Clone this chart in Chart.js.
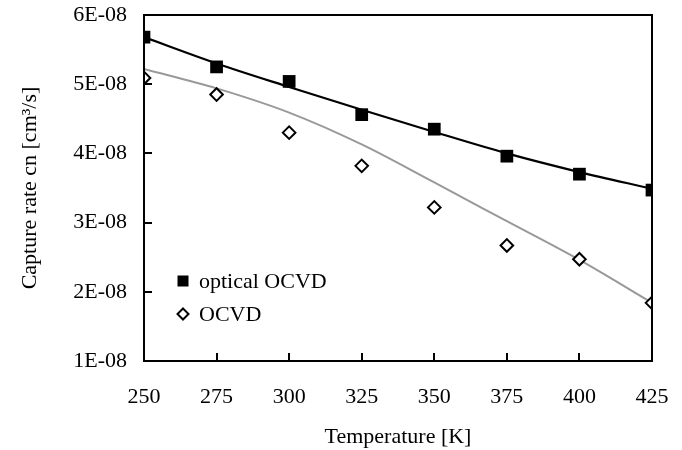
<!DOCTYPE html>
<html>
<head>
<meta charset="utf-8">
<script src="https://cdn.jsdelivr.net/npm/chart.js@4/dist/chart.umd.min.js"></script>
<style>
html,body{margin:0;padding:0;background:#fff;}
#wrap{width:682px;height:450px;}
</style>
</head>
<body>
<div id="wrap"><canvas id="c" width="682" height="450"></canvas></div>
<script>
// Temperature [K]
const temperatures = [250, 275, 300, 325, 350, 375, 400, 425];
// Capture rate, in units of 1E-08 cm^3/s
const opticalOCVD = [5.68, 5.25, 5.04, 4.56, 4.35, 3.96, 3.70, 3.47];
const ocvd        = [5.09, 4.85, 4.30, 3.82, 3.22, 2.67, 2.47, 1.84];
// Trend (fit) curves
const opticalFit  = [5.68, 5.30, 4.96, 4.63, 4.31, 4.00, 3.73, 3.49];
const ocvdFit     = [5.22, 4.94, 4.59, 4.13, 3.58, 3.02, 2.46, 1.84];
const yTickValues = [1, 2, 3, 4, 5, 6];
const xTickValues = [250, 275, 300, 325, 350, 375, 400, 425];
const seriesNames = ['optical OCVD', 'OCVD'];

const pts = arr => temperatures.map((t, i) => ({x: t, y: arr[i]}));
const FONT = "'Liberation Serif', 'Times New Roman', serif";

const frame = {
  id: 'frame',
  afterDatasetsDraw(chart) {
    const {ctx, chartArea: a, scales} = chart;
    ctx.save();
    ctx.strokeStyle = '#000';
    ctx.lineWidth = 2;
    ctx.strokeRect(a.left, a.top, a.right - a.left, a.bottom - a.top);
    ctx.beginPath();
    xTickValues.forEach(v => {
      const x = Math.round(scales.x.getPixelForValue(v));
      ctx.moveTo(x, a.bottom); ctx.lineTo(x, a.bottom - 8);
    });
    yTickValues.forEach(v => {
      const y = Math.round(scales.y.getPixelForValue(v));
      ctx.moveTo(a.left, y); ctx.lineTo(a.left + 8, y);
    });
    ctx.stroke();
    // legend
    ctx.font = "22px " + FONT;
    ctx.fillStyle = '#000';
    ctx.textBaseline = 'middle';
    ctx.textAlign = 'left';
    const lx = a.left + 39, ly1 = a.top + 266, ly2 = a.top + 299;
    ctx.fillRect(lx - 5.5, ly1 - 5.5, 11, 11);
    ctx.fillText(seriesNames[0], lx + 16, ly1 + 1);
    ctx.beginPath();
    ctx.moveTo(lx, ly2 - 5.5); ctx.lineTo(lx + 5.5, ly2); ctx.lineTo(lx, ly2 + 5.5); ctx.lineTo(lx - 5.5, ly2); ctx.closePath();
    ctx.fillStyle = '#fff'; ctx.fill();
    ctx.lineWidth = 2; ctx.strokeStyle = '#000'; ctx.stroke();
    ctx.fillStyle = '#000';
    ctx.fillText(seriesNames[1], lx + 16, ly2 + 1);
    ctx.restore();
  }
};

new Chart(document.getElementById('c'), {
  type: 'scatter',
  data: {
    datasets: [
      {label: 'optical fit', data: pts(opticalFit), showLine: true, borderColor: '#000', borderWidth: 2.2,
       pointRadius: 0, cubicInterpolationMode: 'monotone', order: 3},
      {label: 'OCVD fit', data: pts(ocvdFit), showLine: true, borderColor: '#999', borderWidth: 2,
       pointRadius: 0, cubicInterpolationMode: 'monotone', order: 4},
      {label: seriesNames[0], data: pts(opticalOCVD), pointStyle: 'rect', pointRadius: 9,
       backgroundColor: '#000', borderColor: '#000', borderWidth: 0, order: 1},
      {label: seriesNames[1], data: pts(ocvd), pointStyle: 'rectRot', pointRadius: 6.3,
       backgroundColor: '#fff', borderColor: '#000', borderWidth: 2, order: 2}
    ]
  },
  options: {
    responsive: false,
    animation: false,
    events: [],
    layout: {padding: {top: 15, right: 30, left: 0, bottom: 0}},
    plugins: {legend: {display: false}, tooltip: {enabled: false}},
    scales: {
      x: {
        type: 'linear', min: 250, max: 425,
        afterFit(s) { s.height = 89; s.paddingLeft = 0; s.paddingRight = 0; },
        afterBuildTicks(s) { s.ticks = xTickValues.map(v => ({value: v})); },
        grid: {display: false, drawTicks: false},
        border: {display: false},
        ticks: {color: '#000', font: {family: FONT, size: 22}, padding: 23, maxRotation: 0},
        title: {display: true, text: 'Temperature [K]', color: '#000', font: {family: FONT, size: 22}, padding: {top: 0, bottom: 0}}
      },
      y: {
        type: 'linear', min: 1, max: 6,
        afterFit(s) { s.width = 144; s.paddingTop = 0; s.paddingBottom = 0; },
        afterBuildTicks(s) { s.ticks = yTickValues.map(v => ({value: v})); },
        grid: {display: false, drawTicks: false},
        border: {display: false},
        ticks: {color: '#000', font: {family: FONT, size: 22}, padding: 17,
                callback: v => v + 'E-08'},
        title: {display: true, text: 'Capture rate cn [cm³/s]', color: '#000', font: {family: FONT, size: 22}, padding: {top: 17, bottom: 0}}
      }
    }
  },
  plugins: [frame]
});
</script>
</body>
</html>
